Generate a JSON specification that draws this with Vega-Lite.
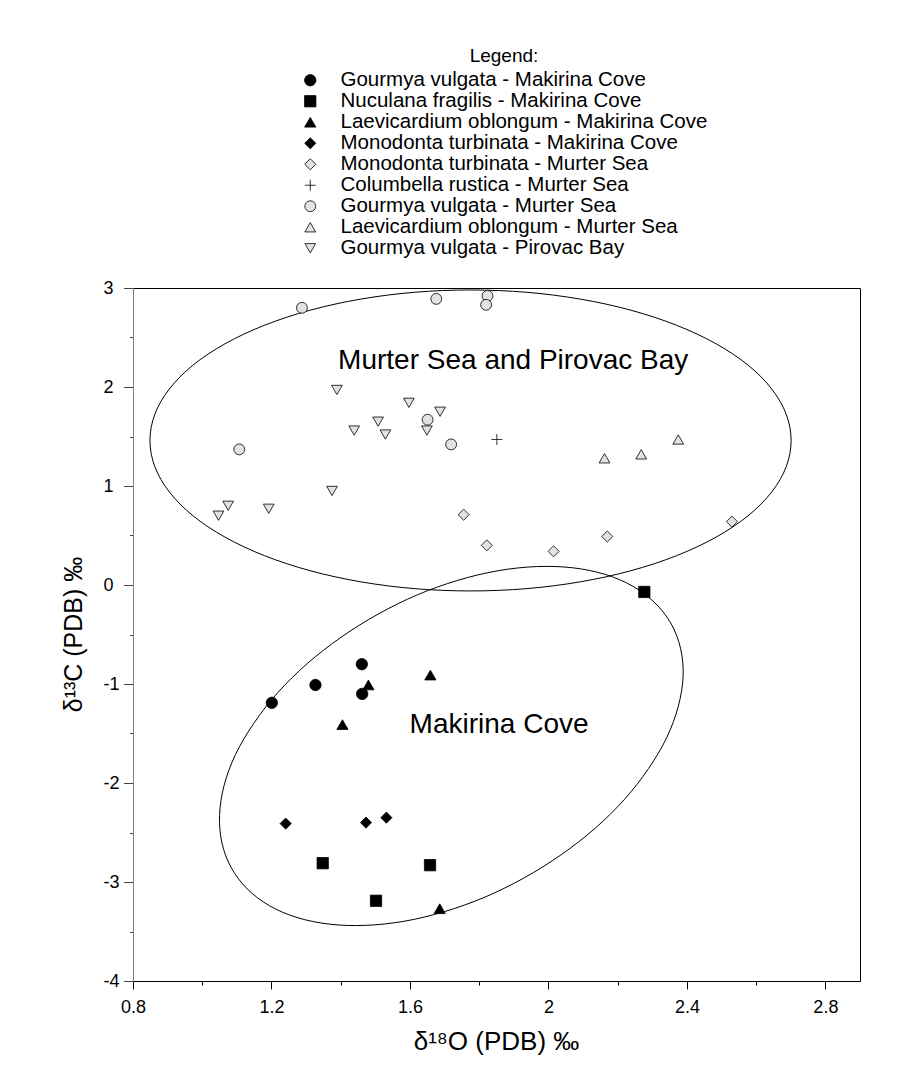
{
  "$schema": "https://vega.github.io/schema/vega-lite/v6.json",
  "width": 727,
  "height": 693,
  "autosize": {"type": "none"},
  "padding": {"left": 133, "top": 288, "right": 42, "bottom": 103},
  "background": "white",
  "config": {"view": {"stroke": "black", "strokeWidth": 1}, "font": "Liberation Sans"},
  "datasets": {
    "points": [
      {"series": "Gourmya vulgata - Makirina Cove", "x": 1.461, "y": -0.80},
      {"series": "Gourmya vulgata - Makirina Cove", "x": 1.327, "y": -1.01},
      {"series": "Gourmya vulgata - Makirina Cove", "x": 1.462, "y": -1.10},
      {"series": "Gourmya vulgata - Makirina Cove", "x": 1.201, "y": -1.19},
      {"series": "Nuculana fragilis - Makirina Cove", "x": 2.277, "y": -0.07},
      {"series": "Nuculana fragilis - Makirina Cove", "x": 1.348, "y": -2.81},
      {"series": "Nuculana fragilis - Makirina Cove", "x": 1.658, "y": -2.83},
      {"series": "Nuculana fragilis - Makirina Cove", "x": 1.502, "y": -3.19},
      {"series": "Laevicardium oblongum - Makirina Cove", "x": 1.480, "y": -1.01},
      {"series": "Laevicardium oblongum - Makirina Cove", "x": 1.659, "y": -0.91},
      {"series": "Laevicardium oblongum - Makirina Cove", "x": 1.405, "y": -1.41},
      {"series": "Laevicardium oblongum - Makirina Cove", "x": 1.686, "y": -3.27},
      {"series": "Monodonta turbinata - Makirina Cove", "x": 1.241, "y": -2.41},
      {"series": "Monodonta turbinata - Makirina Cove", "x": 1.473, "y": -2.40},
      {"series": "Monodonta turbinata - Makirina Cove", "x": 1.532, "y": -2.35},
      {"series": "Monodonta turbinata - Murter Sea", "x": 1.755, "y": 0.71},
      {"series": "Monodonta turbinata - Murter Sea", "x": 1.822, "y": 0.40},
      {"series": "Monodonta turbinata - Murter Sea", "x": 2.015, "y": 0.34},
      {"series": "Monodonta turbinata - Murter Sea", "x": 2.170, "y": 0.49},
      {"series": "Monodonta turbinata - Murter Sea", "x": 2.530, "y": 0.64},
      {"series": "Columbella rustica - Murter Sea", "x": 1.851, "y": 1.47},
      {"series": "Gourmya vulgata - Murter Sea", "x": 1.288, "y": 2.80},
      {"series": "Gourmya vulgata - Murter Sea", "x": 1.676, "y": 2.89},
      {"series": "Gourmya vulgata - Murter Sea", "x": 1.824, "y": 2.92},
      {"series": "Gourmya vulgata - Murter Sea", "x": 1.820, "y": 2.83},
      {"series": "Gourmya vulgata - Murter Sea", "x": 1.651, "y": 1.67},
      {"series": "Gourmya vulgata - Murter Sea", "x": 1.719, "y": 1.42},
      {"series": "Gourmya vulgata - Murter Sea", "x": 1.107, "y": 1.37},
      {"series": "Laevicardium oblongum - Murter Sea", "x": 2.375, "y": 1.47},
      {"series": "Laevicardium oblongum - Murter Sea", "x": 2.268, "y": 1.32},
      {"series": "Laevicardium oblongum - Murter Sea", "x": 2.162, "y": 1.28},
      {"series": "Gourmya vulgata - Pirovac Bay", "x": 1.389, "y": 1.97},
      {"series": "Gourmya vulgata - Pirovac Bay", "x": 1.597, "y": 1.84},
      {"series": "Gourmya vulgata - Pirovac Bay", "x": 1.687, "y": 1.75},
      {"series": "Gourmya vulgata - Pirovac Bay", "x": 1.508, "y": 1.65},
      {"series": "Gourmya vulgata - Pirovac Bay", "x": 1.439, "y": 1.56},
      {"series": "Gourmya vulgata - Pirovac Bay", "x": 1.529, "y": 1.52},
      {"series": "Gourmya vulgata - Pirovac Bay", "x": 1.649, "y": 1.56},
      {"series": "Gourmya vulgata - Pirovac Bay", "x": 1.375, "y": 0.95},
      {"series": "Gourmya vulgata - Pirovac Bay", "x": 1.075, "y": 0.80},
      {"series": "Gourmya vulgata - Pirovac Bay", "x": 1.047, "y": 0.70},
      {"series": "Gourmya vulgata - Pirovac Bay", "x": 1.192, "y": 0.77}
    ],
    "ellipses": [
      {"e": "A", "t": 0, "x": 2.701, "y": 1.460},
      {"e": "A", "t": 10, "x": 2.687, "y": 1.724},
      {"e": "A", "t": 20, "x": 2.645, "y": 1.980},
      {"e": "A", "t": 30, "x": 2.577, "y": 2.220},
      {"e": "A", "t": 40, "x": 2.484, "y": 2.437},
      {"e": "A", "t": 50, "x": 2.370, "y": 2.624},
      {"e": "A", "t": 60, "x": 2.238, "y": 2.776},
      {"e": "A", "t": 70, "x": 2.092, "y": 2.888},
      {"e": "A", "t": 80, "x": 1.936, "y": 2.957},
      {"e": "A", "t": 90, "x": 1.775, "y": 2.980},
      {"e": "A", "t": 100, "x": 1.614, "y": 2.957},
      {"e": "A", "t": 110, "x": 1.458, "y": 2.888},
      {"e": "A", "t": 120, "x": 1.312, "y": 2.776},
      {"e": "A", "t": 130, "x": 1.180, "y": 2.624},
      {"e": "A", "t": 140, "x": 1.066, "y": 2.437},
      {"e": "A", "t": 150, "x": 0.973, "y": 2.220},
      {"e": "A", "t": 160, "x": 0.905, "y": 1.980},
      {"e": "A", "t": 170, "x": 0.863, "y": 1.724},
      {"e": "A", "t": 180, "x": 0.849, "y": 1.460},
      {"e": "A", "t": 190, "x": 0.863, "y": 1.196},
      {"e": "A", "t": 200, "x": 0.905, "y": 0.940},
      {"e": "A", "t": 210, "x": 0.973, "y": 0.700},
      {"e": "A", "t": 220, "x": 1.066, "y": 0.483},
      {"e": "A", "t": 230, "x": 1.180, "y": 0.296},
      {"e": "A", "t": 240, "x": 1.312, "y": 0.144},
      {"e": "A", "t": 250, "x": 1.458, "y": 0.032},
      {"e": "A", "t": 260, "x": 1.614, "y": -0.037},
      {"e": "A", "t": 270, "x": 1.775, "y": -0.060},
      {"e": "A", "t": 280, "x": 1.936, "y": -0.037},
      {"e": "A", "t": 290, "x": 2.092, "y": 0.032},
      {"e": "A", "t": 300, "x": 2.238, "y": 0.144},
      {"e": "A", "t": 310, "x": 2.370, "y": 0.296},
      {"e": "A", "t": 320, "x": 2.484, "y": 0.483},
      {"e": "A", "t": 330, "x": 2.577, "y": 0.700},
      {"e": "A", "t": 340, "x": 2.645, "y": 0.940},
      {"e": "A", "t": 350, "x": 2.687, "y": 1.196},
      {"e": "B", "t": 0, "x": 2.355, "y": -0.395},
      {"e": "B", "t": 10, "x": 2.382, "y": -0.645},
      {"e": "B", "t": 20, "x": 2.389, "y": -0.925},
      {"e": "B", "t": 30, "x": 2.375, "y": -1.226},
      {"e": "B", "t": 40, "x": 2.342, "y": -1.539},
      {"e": "B", "t": 50, "x": 2.289, "y": -1.855},
      {"e": "B", "t": 60, "x": 2.220, "y": -2.164},
      {"e": "B", "t": 70, "x": 2.135, "y": -2.457},
      {"e": "B", "t": 80, "x": 2.037, "y": -2.724},
      {"e": "B", "t": 90, "x": 1.930, "y": -2.958},
      {"e": "B", "t": 100, "x": 1.817, "y": -3.152},
      {"e": "B", "t": 110, "x": 1.700, "y": -3.299},
      {"e": "B", "t": 120, "x": 1.584, "y": -3.396},
      {"e": "B", "t": 130, "x": 1.472, "y": -3.438},
      {"e": "B", "t": 140, "x": 1.368, "y": -3.426},
      {"e": "B", "t": 150, "x": 1.274, "y": -3.359},
      {"e": "B", "t": 160, "x": 1.194, "y": -3.239},
      {"e": "B", "t": 170, "x": 1.130, "y": -3.070},
      {"e": "B", "t": 180, "x": 1.084, "y": -2.857},
      {"e": "B", "t": 190, "x": 1.057, "y": -2.607},
      {"e": "B", "t": 200, "x": 1.050, "y": -2.327},
      {"e": "B", "t": 210, "x": 1.063, "y": -2.026},
      {"e": "B", "t": 220, "x": 1.096, "y": -1.713},
      {"e": "B", "t": 230, "x": 1.149, "y": -1.397},
      {"e": "B", "t": 240, "x": 1.218, "y": -1.088},
      {"e": "B", "t": 250, "x": 1.303, "y": -0.795},
      {"e": "B", "t": 260, "x": 1.401, "y": -0.528},
      {"e": "B", "t": 270, "x": 1.508, "y": -0.294},
      {"e": "B", "t": 280, "x": 1.621, "y": -0.100},
      {"e": "B", "t": 290, "x": 1.738, "y": 0.047},
      {"e": "B", "t": 300, "x": 1.854, "y": 0.144},
      {"e": "B", "t": 310, "x": 1.966, "y": 0.186},
      {"e": "B", "t": 320, "x": 2.070, "y": 0.174},
      {"e": "B", "t": 330, "x": 2.164, "y": 0.107},
      {"e": "B", "t": 340, "x": 2.244, "y": -0.013},
      {"e": "B", "t": 350, "x": 2.308, "y": -0.182}
    ],
    "labels": [
      {"x": 1.3925, "y": 2.182, "label": "Murter Sea and Pirovac Bay"},
      {"x": 1.599, "y": -1.498, "label": "Makirina Cove"}
    ]
  },
  "encoding": {
    "x": {
      "field": "x",
      "type": "quantitative",
      "scale": {"domain": [0.8, 2.9], "nice": false, "zero": false},
      "axis": {
        "title": "δ¹⁸O (PDB)  ‰",
        "values": [0.8, 1.0, 1.2, 1.4, 1.6, 1.8, 2.0, 2.2, 2.4, 2.6, 2.8],
        "labelExpr": "indexof([0.8, 1.2, 1.6, 2, 2.4, 2.8], datum.value) >= 0 ? format(datum.value, '~g') : ''",
        "tickSize": {"condition": {"test": "indexof([0.8, 1.2, 1.6, 2, 2.4, 2.8], datum.value) >= 0", "value": 8}, "value": 4},
        "grid": false,
        "domainColor": "black",
        "tickColor": "black",
        "labelColor": "black",
        "labelFont": "Liberation Sans",
        "labelFontSize": 18,
        "labelPadding": 9,
        "labelFlush": false,
        "labelOverlap": false,
        "titleFont": "Liberation Sans",
        "titleFontSize": 26,
        "titleFontWeight": "normal",
        "titleColor": "black",
        "titleX": 363,
        "titleY": 60,
        "titleAlign": "center",
        "titleBaseline": "middle"
      }
    },
    "y": {
      "field": "y",
      "type": "quantitative",
      "scale": {"domain": [-4, 3], "nice": false, "zero": false},
      "axis": {
        "title": "δ¹³C (PDB)  ‰",
        "values": [-4, -3.5, -3, -2.5, -2, -1.5, -1, -0.5, 0, 0.5, 1, 1.5, 2, 2.5, 3],
        "labelExpr": "datum.value % 1 == 0 ? '' + datum.value : ''",
        "tickSize": {"condition": {"test": "datum.value % 1 == 0", "value": 9.5}, "value": 3.5},
        "grid": false,
        "domainColor": "#808080",
        "tickColor": "#444444",
        "labelColor": "black",
        "labelFontSize": 18,
        "labelAlign": "left",
        "labelBaseline": "middle",
        "labelPadding": 20.5,
        "labelFlush": false,
        "labelOverlap": false,
        "titleFontSize": 25,
        "titleFontWeight": "normal",
        "titleColor": "black",
        "titleX": -60,
        "titleY": 346,
        "titleAngle": -90,
        "titleAlign": "center",
        "titleBaseline": "middle"
      }
    }
  },
  "layer": [
    {
      "data": {"name": "ellipses"},
      "mark": {"type": "line", "interpolate": "cardinal-closed", "stroke": "black", "strokeWidth": 1},
      "encoding": {
        "detail": {"field": "e", "type": "nominal"},
        "order": {"field": "t", "type": "quantitative"}
      }
    },
    {
      "data": {"name": "points"},
      "mark": {"type": "point", "filled": true, "strokeWidth": 0.8, "opacity": 1},
      "encoding": {
        "fill": {
          "field": "series", "type": "nominal",
          "scale": {
            "domain": ["Gourmya vulgata - Makirina Cove", "Nuculana fragilis - Makirina Cove", "Laevicardium oblongum - Makirina Cove", "Monodonta turbinata - Makirina Cove", "Monodonta turbinata - Murter Sea", "Columbella rustica - Murter Sea", "Gourmya vulgata - Murter Sea", "Laevicardium oblongum - Murter Sea", "Gourmya vulgata - Pirovac Bay"],
            "range": ["black", "black", "black", "black", "#e2e2e2", "transparent", "#e2e2e2", "#e2e2e2", "#e2e2e2"]
          },
          "legend": {
            "title": "Legend:", "orient": "none", "legendX": 167, "legendY": -241, "direction": "vertical",
            "titleAnchor": "middle", "titleFontSize": 19, "titleFontWeight": "normal", "titleColor": "black", "titlePadding": 4,
            "labelFontSize": 20.5, "labelColor": "black", "labelOffset": 20, "rowPadding": -1, "labelLimit": 0,
            "symbolStrokeWidth": 0.8, "symbolOpacity": 1
          }
        },
        "stroke": {
          "field": "series", "type": "nominal",
          "scale": {
            "domain": ["Gourmya vulgata - Makirina Cove", "Nuculana fragilis - Makirina Cove", "Laevicardium oblongum - Makirina Cove", "Monodonta turbinata - Makirina Cove", "Monodonta turbinata - Murter Sea", "Columbella rustica - Murter Sea", "Gourmya vulgata - Murter Sea", "Laevicardium oblongum - Murter Sea", "Gourmya vulgata - Pirovac Bay"],
            "range": ["black", "black", "black", "black", "black", "black", "black", "black", "black"]
          },
          "legend": {
            "title": "Legend:", "orient": "none", "legendX": 167, "legendY": -241, "direction": "vertical",
            "titleAnchor": "middle", "titleFontSize": 19, "titleFontWeight": "normal", "titleColor": "black", "titlePadding": 4,
            "labelFontSize": 20.5, "labelColor": "black", "labelOffset": 20, "rowPadding": -1, "labelLimit": 0,
            "symbolStrokeWidth": 0.8, "symbolOpacity": 1
          }
        },
        "shape": {
          "field": "series", "type": "nominal",
          "scale": {
            "domain": ["Gourmya vulgata - Makirina Cove", "Nuculana fragilis - Makirina Cove", "Laevicardium oblongum - Makirina Cove", "Monodonta turbinata - Makirina Cove", "Monodonta turbinata - Murter Sea", "Columbella rustica - Murter Sea", "Gourmya vulgata - Murter Sea", "Laevicardium oblongum - Murter Sea", "Gourmya vulgata - Pirovac Bay"],
            "range": ["circle", "square", "triangle-up", "diamond", "diamond", "M-1,0L1,0M0,-1L0,1", "circle", "triangle-up", "triangle-down"]
          },
          "legend": {
            "title": "Legend:", "orient": "none", "legendX": 167, "legendY": -241, "direction": "vertical",
            "titleAnchor": "middle", "titleFontSize": 19, "titleFontWeight": "normal", "titleColor": "black", "titlePadding": 4,
            "labelFontSize": 20.5, "labelColor": "black", "labelOffset": 20, "rowPadding": -1, "labelLimit": 0,
            "symbolStrokeWidth": 0.8, "symbolOpacity": 1
          }
        },
        "size": {
          "field": "series", "type": "nominal",
          "scale": {
            "domain": ["Gourmya vulgata - Makirina Cove", "Nuculana fragilis - Makirina Cove", "Laevicardium oblongum - Makirina Cove", "Monodonta turbinata - Makirina Cove", "Monodonta turbinata - Murter Sea", "Columbella rustica - Murter Sea", "Gourmya vulgata - Murter Sea", "Laevicardium oblongum - Murter Sea", "Gourmya vulgata - Pirovac Bay"],
            "range": [130, 115, 100, 90, 85, 100, 160, 90, 100]
          },
          "legend": {
            "title": "Legend:", "orient": "none", "legendX": 167, "legendY": -241, "direction": "vertical",
            "titleAnchor": "middle", "titleFontSize": 19, "titleFontWeight": "normal", "titleColor": "black", "titlePadding": 4,
            "labelFontSize": 20.5, "labelColor": "black", "labelOffset": 20, "rowPadding": -1, "labelLimit": 0,
            "symbolStrokeWidth": 0.8, "symbolOpacity": 1
          }
        }
      }
    },
    {
      "data": {"name": "labels"},
      "mark": {"type": "text", "align": "left", "baseline": "alphabetic", "fontSize": 28, "font": "Liberation Sans", "color": "black"},
      "encoding": {"text": {"field": "label", "type": "nominal"}}
    }
  ]
}
